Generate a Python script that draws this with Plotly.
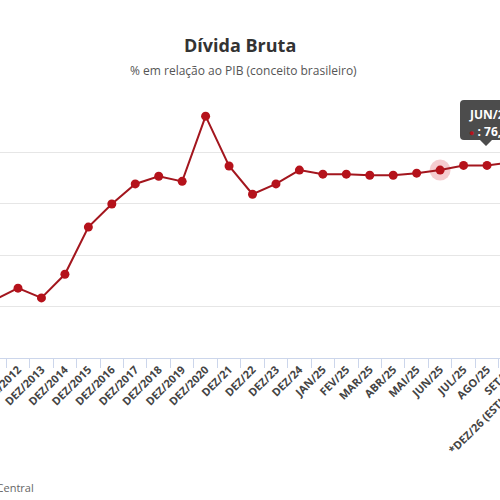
"""Dívida Bruta (% do PIB) - linha com marcadores, estilo Highcharts."""

import plotly.graph_objects as go

# categorias do eixo x
categories = [
    "DEZ/2011", "DEZ/2012", "DEZ/2013", "DEZ/2014", "DEZ/2015", "DEZ/2016",
    "DEZ/2017", "DEZ/2018", "DEZ/2019", "DEZ/2020", "DEZ/21", "DEZ/22",
    "DEZ/23", "DEZ/24", "JAN/25", "FEV/25", "MAR/25", "ABR/25", "MAI/25",
    "JUN/25", "JUL/25", "AGO/25", "SET/25", "*DEZ/26 (ESTIMATIVA)",
]
# % do PIB
debt = [
    51.3, 53.6, 51.7, 56.3, 65.5, 70.0,
    73.9, 75.4, 74.4, 87.1, 77.4, 71.9,
    73.9, 76.6, 75.8, 75.8, 75.6, 75.6, 76.0,
    76.6, 77.5, 77.5, 78.1, 83.0,
]
hover_cat = "JUN/25"
hover_val = 76.6
y_ticks = [40, 50, 60, 70, 80, 90]

LINE = "#a3161e"
DOT = "#b5121b"
FONT = "Open Sans"

# a figura é mais larga que a janela: o lado direito fica cortado, como no original
W = 560
CAT_PX = 23.45      # largura de uma categoria em px
X0 = 0.232          # posição (em categorias) da borda esquerda

fig = go.Figure()

# halo do ponto em destaque
fig.add_trace(go.Scatter(
    x=[hover_cat], y=[hover_val],
    mode="markers",
    marker=dict(size=21, color="rgba(225,110,120,0.35)"),
    hoverinfo="skip", showlegend=False,
))

fig.add_trace(go.Scatter(
    x=categories, y=debt,
    mode="lines+markers",
    line=dict(color=LINE, width=2),
    marker=dict(size=9, color=DOT),
    showlegend=False,
))


# tooltip (caixa escura com seta), em px convertido para paper
def px_x(v):
    return v / W


def px_y(v):
    return (358 - v) / 257


tip = (
    f"M {px_x(464)},{px_y(100)} L {px_x(540)},{px_y(100)} "
    f"L {px_x(540)},{px_y(140)} L {px_x(492)},{px_y(140)} "
    f"L {px_x(486)},{px_y(146)} L {px_x(480)},{px_y(140)} "
    f"L {px_x(464)},{px_y(140)} Q {px_x(460)},{px_y(140)} {px_x(460)},{px_y(136)} "
    f"L {px_x(460)},{px_y(104)} Q {px_x(460)},{px_y(100)} {px_x(464)},{px_y(100)} Z"
)
fig.add_shape(type="path", path=tip, xref="paper", yref="paper",
              fillcolor="rgba(51,51,51,0.88)", line=dict(width=0), layer="above")

fig.add_annotation(
    x=px_x(467), y=px_y(114), xref="paper", yref="paper",
    xanchor="left", yanchor="middle", showarrow=False,
    text=f"<b>{hover_cat}</b>",
    font=dict(family=FONT, size=12, color="white"),
)
fig.add_annotation(
    x=px_x(467), y=px_y(131), xref="paper", yref="paper",
    xanchor="left", yanchor="middle", showarrow=False,
    text=f"<span style='color:{DOT};font-size:9px'>●</span><b> : {str(hover_val).replace('.', ',')}%</b>",
    font=dict(family=FONT, size=12, color="white"),
)

# fonte
fig.add_annotation(
    x=px_x(36), y=px_y(487), xref="paper", yref="paper",
    xanchor="right", yanchor="middle", showarrow=False,
    text="Fonte: Banco Central",
    font=dict(family=FONT, size=11, color="#666666"),
)

# título e subtítulo
fig.add_annotation(
    x=px_x(240), y=px_y(45), xref="paper", yref="paper",
    xanchor="center", yanchor="middle", showarrow=False,
    text="<b>Dívida Bruta</b>",
    font=dict(family=FONT, size=18, color="#333333"),
)
fig.add_annotation(
    x=px_x(243), y=px_y(70), xref="paper", yref="paper",
    xanchor="center", yanchor="middle", showarrow=False,
    text="% em relação ao PIB (conceito brasileiro)",
    font=dict(family=FONT, size=12, color="#555555"),
)

fig.update_layout(
    width=W, height=500,
    margin=dict(l=0, r=0, t=101, b=142, autoexpand=False),
    paper_bgcolor="white", plot_bgcolor="white",
    font=dict(family=FONT),
    xaxis=dict(
        type="category",
        categoryorder="array", categoryarray=categories,
        range=[X0, X0 + W / CAT_PX],
        automargin=False,
        tickangle=-45,
        tickfont=dict(family=FONT, size=11, color="#444444", weight="bold"),
        showgrid=False, zeroline=False,
        showline=True, linecolor="#ccd6eb", linewidth=1,
        ticks="outside", tickson="boundaries", ticklen=9, tickcolor="#ccd6eb",
    ),
    yaxis=dict(
        range=[40, 90.05],
        automargin=False,
        tickvals=y_ticks,
        showticklabels=False,
        showgrid=True, gridcolor="#e6e6e6", gridwidth=1,
        zeroline=False, showline=False,
    ),
)

# sem a margem padrão do <body> e sem barras de rolagem
fig.write_html(
    "out.html",
    config={"displayModeBar": False},
    post_script="document.body.style.margin = '0px'; document.body.style.overflow = 'hidden';",
)
